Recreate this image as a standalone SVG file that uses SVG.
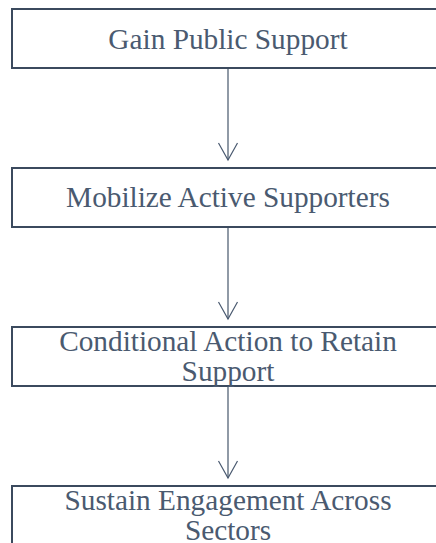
<svg xmlns="http://www.w3.org/2000/svg" width="436" height="543" viewBox="0 0 436 543">
<style>
.box{fill:#ffffff;stroke:#3b4a5e;stroke-width:2}
.lbl{font-size:29.3px;fill:#4a5a70;text-anchor:middle}
.edge{stroke:#6b7889;stroke-width:1.5;fill:none}
.head{stroke:#4a5a70;stroke-width:1.2;fill:none}
</style>
<rect width="436" height="543" fill="#ffffff"/>
<g id="connectors">
<line class="edge" x1="228" y1="69" x2="228" y2="160"/>
<polyline class="head" points="218.5,143 228,160 237.5,143"/>
<line class="edge" x1="228" y1="228" x2="228" y2="319"/>
<polyline class="head" points="218.5,302 228,319 237.5,302"/>
<line class="edge" x1="228" y1="387" x2="228" y2="478"/>
<polyline class="head" points="218.5,461 228,478 237.5,461"/>
</g>
<g font-family="Liberation Serif, DejaVu Serif, Noto Serif, serif">
<g id="node1">
<rect class="box" x="12" y="9" width="432" height="59"/>
<text class="lbl" x="228" y="49">Gain Public Support</text>
</g>
<g id="node2">
<rect class="box" x="12" y="168" width="432" height="59"/>
<text class="lbl" x="228" y="207">Mobilize Active Supporters</text>
</g>
<g id="node3">
<rect class="box" x="12" y="327" width="432" height="59"/>
<text class="lbl" x="228" y="351">Conditional Action to Retain</text>
<text class="lbl" x="228" y="380.5">Support</text>
</g>
<g id="node4">
<rect class="box" x="12" y="486" width="432" height="59"/>
<text class="lbl" x="228" y="510">Sustain Engagement Across</text>
<text class="lbl" x="228" y="539.5">Sectors</text>
</g>
</g>
</svg>
